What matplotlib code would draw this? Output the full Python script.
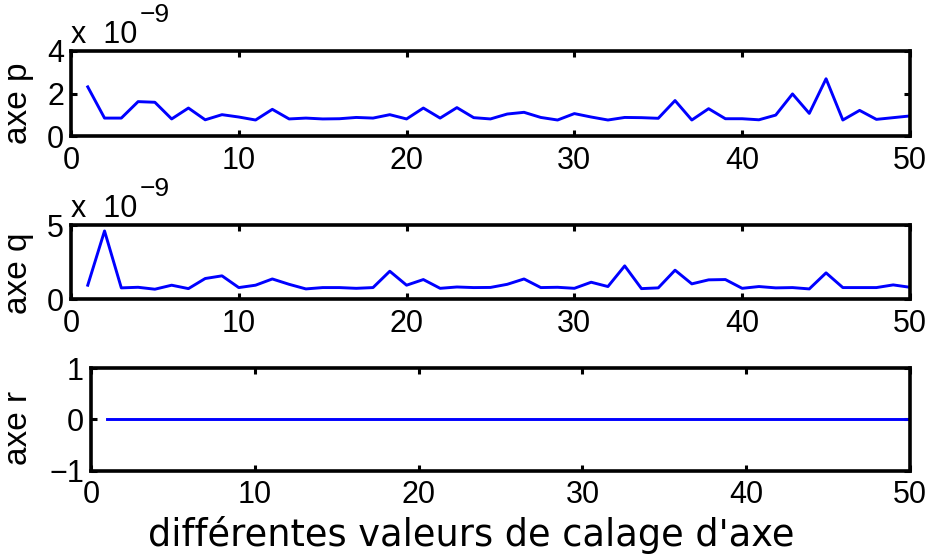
import matplotlib
matplotlib.use('Agg')
import matplotlib.pyplot as plt
from matplotlib.ticker import FuncFormatter
from matplotlib.transforms import offset_copy
import numpy as np

plt.rcParams['font.family'] = ['Liberation Sans', 'DejaVu Sans']

# x positions: calage values 1..50
calage = list(range(1, 51))

# values, in units of 1e-9
axeP = [2.32, 0.86, 0.86, 1.63, 1.60, 0.82, 1.33, 0.78, 1.02, 0.91,
        0.77, 1.27, 0.82, 0.86, 0.82, 0.83, 0.89, 0.86, 1.02, 0.82,
        1.33, 0.86, 1.35, 0.88, 0.82, 1.05, 1.13, 0.89, 0.77, 1.07,
        0.91, 0.77, 0.89, 0.88, 0.85, 1.68, 0.77, 1.30, 0.83, 0.83,
        0.78, 1.00, 1.99, 1.08, 2.70, 0.77, 1.22, 0.80, 0.88, 0.96]
axeQ = [0.95, 4.60, 0.77, 0.81, 0.68, 0.95, 0.72, 1.40, 1.58, 0.79,
        0.95, 1.37, 1.01, 0.70, 0.79, 0.79, 0.74, 0.79, 1.89, 0.95,
        1.33, 0.74, 0.83, 0.79, 0.80, 1.01, 1.37, 0.79, 0.81, 0.74,
        1.15, 0.86, 2.25, 0.72, 0.77, 1.96, 1.04, 1.31, 1.33, 0.74,
        0.86, 0.77, 0.79, 0.70, 1.78, 0.79, 0.79, 0.79, 0.97, 0.81]
axeR = [0.0] * 50
scale = 1e-9

figureWidth = 9.29
figureHeight = 5.6
fig = plt.figure(figsize=(figureWidth, figureHeight), dpi=100)

# left, bottom, width, height
panel1 = plt.axes([0.0764, 0.7563, 0.9031, 0.1527])
panel2 = plt.axes([0.0764, 0.4655, 0.9031, 0.1327])
panel3 = plt.axes([0.0980, 0.1598, 0.8816, 0.1830])

blue = (0, 0, 1)
tickSize = 22
labelSize = 24

panel1.plot(calage, np.array(axeP) * scale, color=blue, linewidth=2.1)
panel2.plot(calage, np.array(axeQ) * scale, color=blue, linewidth=2.1)
panel3.plot(calage, axeR, color=blue, linewidth=2.1)

panel1.set_ylim(0, 4e-9)
panel1.set_yticks([0, 2e-9, 4e-9])
panel2.set_ylim(0, 5e-9)
panel2.set_yticks([0, 5e-9])
panel3.set_ylim(-1, 1)
panel3.set_yticks([-1, 0, 1])

sciFmt = FuncFormatter(lambda v, pos: '%g' % round(v / scale, 6))
panel1.yaxis.set_major_formatter(sciFmt)
panel2.yaxis.set_major_formatter(sciFmt)

# label right edge at ~34 px, shifted a bit below centre like the reference
labelSpots = [(panel1, 'axe p', 0.394), (panel2, 'axe q', 0.35), (panel3, 'axe r', 0.42)]
for panel, label, ypos in labelSpots:
    panel.set_xlim(0, 50)
    panel.set_xticks([0, 10, 20, 30, 40, 50])
    panel.tick_params(direction='in', top=True, right=True, length=4,
                      width=2.2, labelsize=tickSize, colors='black')
    panel.tick_params(axis='x', pad=7)
    panel.tick_params(axis='y', pad=5)
    for spine in panel.spines.values():
        spine.set_linewidth(2.6)
    panel.set_ylabel(label, fontsize=labelSize)
    leftPx = panel.get_position().x0 * 929
    widthPx = panel.get_position().width * 929
    panel.yaxis.set_label_coords((34 - leftPx) / widthPx, ypos)

# MATLAB-style exponent labels
for panel in [panel1, panel2]:
    base = offset_copy(panel.transAxes, fig=fig, x=0, y=8, units='dots')
    panel.text(0.0, 1.0, 'x  10', transform=base, fontsize=tickSize,
               ha='left', va='baseline')
    sup = offset_copy(panel.transAxes, fig=fig, x=69, y=29, units='dots')
    panel.text(0.0, 1.0, '\u22129', transform=sup, fontsize=19,
               ha='left', va='baseline')

fig.text(471 / 929, 1 - 546 / 560, "différentes valeurs de calage d'axe",
         fontsize=26.5, family='DejaVu Sans', ha='center', va='baseline')

plt.savefig('out.png', dpi=100)
